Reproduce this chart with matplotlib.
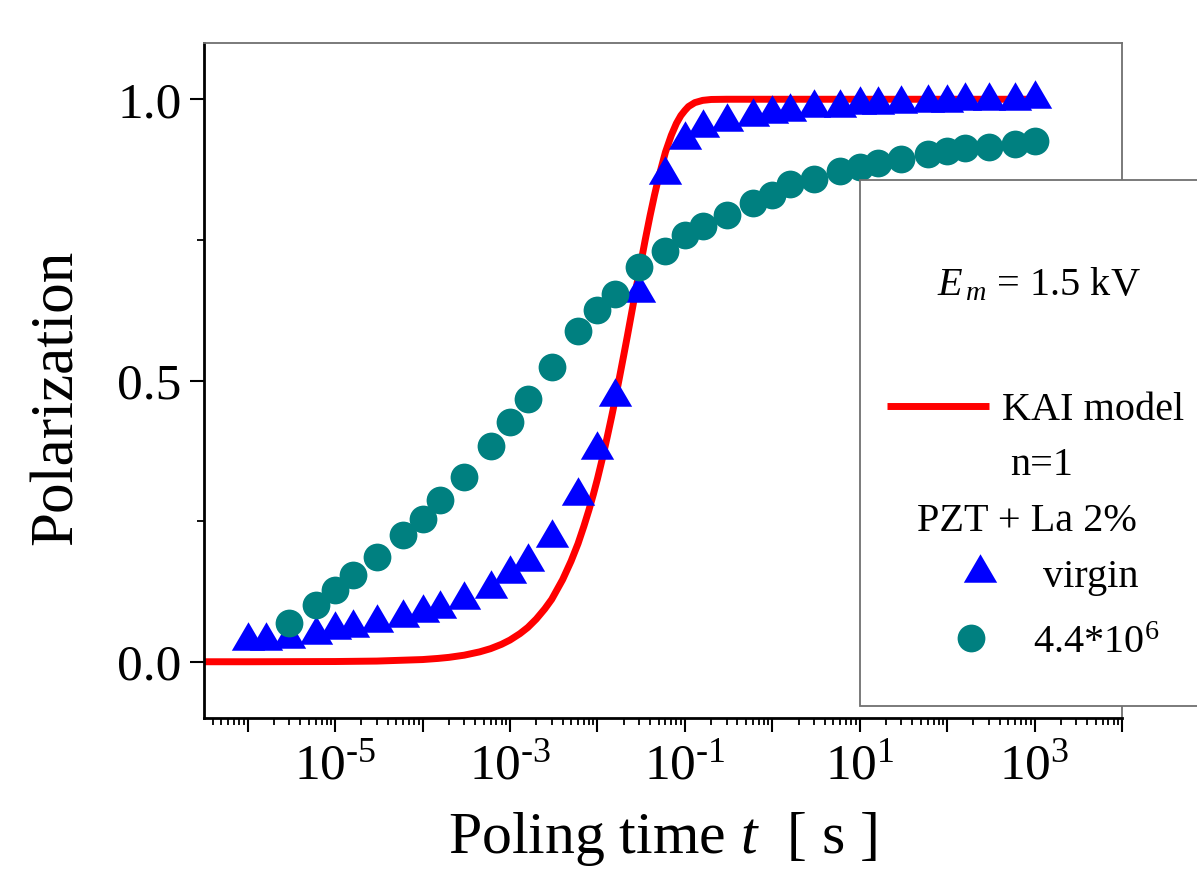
import math
import matplotlib
matplotlib.use("Agg")
import matplotlib.pyplot as plt
from matplotlib.ticker import FixedLocator, FuncFormatter, LogLocator, NullFormatter, MultipleLocator
from matplotlib.patches import Rectangle
from matplotlib.lines import Line2D

plt.rcParams['font.family'] = ['Liberation Serif', 'DejaVu Serif']
plt.rcParams['mathtext.fontset'] = 'custom'
plt.rcParams['mathtext.rm'] = 'Liberation Serif'
plt.rcParams['mathtext.it'] = 'Liberation Serif:italic'

# poling times of the measurements [s]
t_meas = [1e-6, 1.6e-6, 3e-6, 6e-6,
          1e-5, 1.6e-5, 3e-5, 6e-5,
          1e-4, 1.6e-4, 3e-4, 6e-4,
          1e-3, 1.6e-3, 3e-3, 6e-3,
          1e-2, 1.6e-2, 3e-2, 6e-2,
          1e-1, 0.16, 0.3, 0.6,
          1, 1.6, 3, 6,
          10, 16, 30, 60,
          100, 160, 300, 600,
          1000]

virgin = [0.045, 0.045, 0.050, 0.056,
          0.065, 0.069, 0.078, 0.087,
          0.096, 0.103, 0.119, 0.138,
          0.165, 0.187, 0.229, 0.304,
          0.385, 0.480, 0.665, 0.875,
          0.936, 0.958, 0.968, 0.977,
          0.982, 0.986, 0.993, 0.993,
          0.998, 0.999, 1.000, 1.002,
          1.003, 1.005, 1.005, 1.006,
          1.010]

# fatigued sample (4.4*10^6 cycles), starts at 3e-6 s
t_fat = t_meas[2:]
fatigued = [0.069, 0.101,
            0.127, 0.155, 0.186, 0.226,
            0.254, 0.287, 0.329, 0.384,
            0.426, 0.467, 0.524, 0.588,
            0.626, 0.653, 0.702, 0.730,
            0.758, 0.775, 0.794, 0.815,
            0.829, 0.849, 0.859, 0.872,
            0.880, 0.887, 0.894, 0.902,
            0.908, 0.914, 0.916, 0.920,
            0.926]

# KAI model curve (n=1)
kai_t = [3e-7, 1e-6, 1e-5, 3e-5, 1e-4, 1.5e-4, 2e-4, 3e-4, 4.5e-4, 6e-4, 8e-4,
         1e-3, 1.3e-3, 1.6e-3, 2e-3, 2.5e-3, 3e-3, 4e-3, 5e-3, 6e-3, 7e-3, 8e-3,
         9e-3, 1e-2, 1.15e-2, 1.3e-2, 1.45e-2, 1.6e-2, 1.8e-2, 2e-2, 2.2e-2, 2.5e-2,
         3e-2, 3.5e-2, 4e-2, 4.5e-2, 5e-2, 6e-2, 7e-2, 8e-2, 9e-2, 0.1, 0.11,
         0.13, 0.16, 0.2, 0.3, 1, 10, 100, 1000]
kai_p = [0.0, 0.0, 0.0004, 0.0012, 0.0039, 0.0059, 0.0078, 0.0117, 0.0176, 0.0233, 0.031,
         0.0386, 0.050, 0.061, 0.076, 0.094, 0.111, 0.146, 0.179, 0.210, 0.241, 0.270,
         0.298, 0.325, 0.364, 0.401, 0.435, 0.467, 0.508, 0.545, 0.579, 0.626,
         0.693, 0.748, 0.793, 0.830, 0.860, 0.906, 0.936, 0.957, 0.971, 0.980, 0.987,
         0.994, 0.998, 0.9996, 1.0, 1.0, 1.0, 1.0, 1.0]

W, H = 1197, 873
fig = plt.figure(figsize=(W / 100, H / 100), dpi=100)
ax = fig.add_axes([204 / W, 1 - 718 / H, (1122 - 204) / W, (718 - 43) / H])

tri = [(0, 1), (-1.17, -1), (1.17, -1)]
teal = '#008080'

ax.plot(kai_t, kai_p, color='red', lw=5, zorder=2, solid_capstyle='butt', solid_joinstyle='round')
ax.plot(t_meas, virgin, ls='none', marker=tri, ms=24, color='blue', mec='blue', mew=0, zorder=3)
ax.plot(t_fat, fatigued, ls='none', marker='o', ms=20, color=teal, mec=teal, mew=0, zorder=4)

ax.set_xscale('log')
ax.set_xlim(10 ** -6.5, 1e4)
ax.set_ylim(-0.1, 1.1)


def xfmt(v, pos):
    k = round(math.log10(v))
    if k % 2 == 0:
        return ''
    if k < 0:
        return r'$10^{\text{-}%d}$' % (-k)
    return r'$10^{%d}$' % k


ax.xaxis.set_major_locator(FixedLocator([10.0 ** k for k in range(-6, 5)]))
ax.xaxis.set_major_formatter(FuncFormatter(xfmt))
ax.xaxis.set_minor_locator(LogLocator(base=10, subs=range(2, 10), numticks=100))
ax.xaxis.set_minor_formatter(NullFormatter())
ax.yaxis.set_major_locator(FixedLocator([0.0, 0.5, 1.0]))
ax.yaxis.set_major_formatter(FuncFormatter(lambda v, p: '%.1f' % v))
ax.yaxis.set_minor_locator(MultipleLocator(0.25))

ax.tick_params(which='major', direction='out', length=10, width=1.5, labelsize=37, pad=8)
ax.tick_params(which='minor', direction='out', length=5, width=1.3)
ax.tick_params(axis='y', which='major', pad=6)
ax.tick_params(top=False, right=False, which='both')

for s in ['left', 'bottom']:
    ax.spines[s].set_linewidth(2)
    ax.spines[s].set_color('black')
for s in ['top', 'right']:
    ax.spines[s].set_linewidth(1.3)
    ax.spines[s].set_color('#707070')

ax.set_xlabel(r'Poling time $t$  [ s ]', fontsize=43, labelpad=15)
ax.set_ylabel('Polarization', fontsize=44)
ax.yaxis.set_label_coords(-0.13, 0.475)


def fx(px):
    return px / W


def fy(py):
    return 1 - py / H


# legend box, running off the right edge of the figure
box = Rectangle((fx(860), fy(706)), fx(1260) - fx(860), fy(180) - fy(706),
                transform=fig.transFigure, facecolor='white', edgecolor='#707070',
                lw=1.3, zorder=10, clip_on=False)
fig.add_artist(box)

fs = 29
fig.text(fx(937), fy(295), r'$E_{\,m}$ = 1.5 kV', fontsize=fs, va='baseline', zorder=11)
fig.add_artist(Line2D([fx(887), fx(989)], [fy(406), fy(406)], transform=fig.transFigure,
                      color='red', lw=5, zorder=11, solid_capstyle='butt'))
fig.text(fx(1002), fy(420), 'KAI model', fontsize=fs, va='baseline', zorder=11)
fig.text(fx(1010), fy(475), 'n=1', fontsize=fs, va='baseline', zorder=11)
fig.text(fx(917), fy(531), 'PZT + La 2%', fontsize=fs, va='baseline', zorder=11)
fig.add_artist(Line2D([fx(980)], [fy(568)], transform=fig.transFigure, ls='none',
                      marker=tri, ms=24, color='blue', mew=0, zorder=11))
fig.text(fx(1043), fy(587), 'virgin', fontsize=fs, va='baseline', zorder=11)
fig.add_artist(Line2D([fx(971)], [fy(638)], transform=fig.transFigure, ls='none',
                      marker='o', ms=20, color=teal, mew=0, zorder=11))
fig.text(fx(1033), fy(653), r'4.4*10$^{6}$', fontsize=fs, va='baseline', zorder=11)

fig.savefig('out.png', dpi=100)
